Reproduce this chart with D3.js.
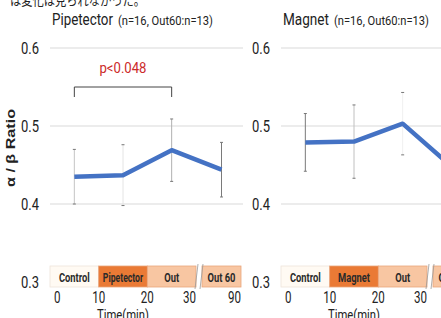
<!DOCTYPE html>
<html>
<head>
<meta charset="utf-8">
<script src="https://cdn.jsdelivr.net/npm/d3@7"></script>
<style>
  body { margin: 0; background: #fff; overflow: hidden; }
  text { font-family: "Roboto", "Liberation Sans", sans-serif; }
</style>
</head>
<body>
<div id="chart"></div>
<script>
/* DATA */
const panelTitles = ['Pipetector', 'Magnet'];
const panelSubtitle = '(n=16, Out60:n=13)';
const stagesPip = ['Control', 'Pipetector', 'Out', 'Out 60'];
const stagesMag = ['Control', 'Magnet', 'Out', 'Out 60'];
const timeTicks = [0, 10, 20, 30];
const lateTick = '90';
const yTicks = [0.3, 0.4, 0.5, 0.6];
const pipMean = [0.435, 0.437, 0.469, 0.444];
const pipErr = [0.035, 0.039, 0.040, 0.035];
const magMean = [0.479, 0.480, 0.503, 0.447];
const magErr = [0.037, 0.047, 0.040, 0.040];
const pText = 'p<0.048';

/* CONSTANTS */
const W = 441, H = 318;
const stageFill = ['#fffaf3', '#ea7a35', '#f8c6a2', '#f8c6a2'];
const pipErrColor = ['#c4c4c4', '#e4e4e4', '#b0b0b0', '#7a7a7a'];
const magErrColor = ['#7a7a7a', '#c0c0c0', '#f0f0f0', '#c0c0c0'];

const svg = d3.select('#chart')
  .append('svg')
  .attr('width', W)
  .attr('height', H);

// text helper, the slide font is condensed so texts get squeezed
function label(g, x, y, s, o = {}) {
  const t = g.append('text')
    .attr('x', x).attr('y', y)
    .attr('text-anchor', o.anchor || 'start')
    .style('font-size', (o.size || 14) + 'px')
    .attr('fill', o.fill || '#222')
    .text(s);
  if (o.bold) t.style('font-weight', 'bold');
  if (o.family) t.style('font-family', o.family);
  let len = o.len;
  if (!len && o.squeeze) len = t.node().getComputedTextLength() * o.squeeze;
  if (len) t.attr('textLength', len).attr('lengthAdjust', 'spacingAndGlyphs');
  return t;
}

// cut-off sentence from the slide above
label(svg, 10, 5, 'は変化は見られなかった。', { size: 14, len: 135, family: '"Noto Sans CJK JP", sans-serif' });

const y = d3.scaleLinear().domain([0.3, 0.6]).range([282, 48]);

// y axis title
label(svg, 0, 0, 'α / β Ratio', { size: 13, bold: true, anchor: 'middle', len: 78, family: '"Liberation Sans", sans-serif' })
  .attr('transform', 'translate(15,148) rotate(-90)');

function drawPanel(ox, title, titleLen, stages, mean, err, errColor, showLate) {
  const g = svg.append('g').attr('transform', `translate(${ox},0)`);
  const x = d3.scaleLinear().domain([0, 30]).range([50, 196]);
  const lateX0 = x(30) + 6, lateW = 39;
  const px = i => i < 3 ? x(5 + 10 * i) : lateX0 + lateW / 2;

  // title
  label(g, 52, 25, title, { size: 16, len: titleLen });
  label(g, 52 + titleLen + 5, 25, panelSubtitle, { size: 13, len: 95 });

  // gridlines + tick labels
  g.selectAll('.grid')
    .data(yTicks.filter(d => d > 0.3))
    .enter().append('line')
    .attr('x1', 50).attr('x2', lateX0 + lateW + 2)
    .attr('y1', d => y(d)).attr('y2', d => y(d))
    .attr('stroke', '#d9d9d9').attr('stroke-width', 1);

  yTicks.forEach(d => {
    label(g, 39, y(d) + 6, d.toFixed(1), { size: 16, anchor: 'end', len: 18 });
  });

  // timeline bar
  const barTop = 266, barH = 21;
  const segs = stages.map((s, i) => i < 3
    ? { name: s, x0: x(10 * i), x1: x(10 * i + 10), fill: stageFill[i] }
    : { name: s, x0: lateX0, x1: lateX0 + lateW, fill: stageFill[i] });

  g.selectAll('.seg')
    .data(segs)
    .enter().append('rect')
    .attr('x', d => d.x0).attr('y', barTop)
    .attr('width', d => d.x1 - d.x0).attr('height', barH)
    .attr('fill', d => d.fill)
    .attr('stroke', (d, i) => i === 0 ? '#eee4da' : '#e9a57c')
    .attr('stroke-width', 0.8);

  segs.forEach(d => {
    label(g, (d.x0 + d.x1) / 2, barTop + 16, d.name, {
      size: d.name.length > 7 ? 12 : 13, bold: true, anchor: 'middle', fill: '#2a2a2a', squeeze: 0.72
    });
  });

  // break marks
  const bx = x(30);
  g.append('path')
    .attr('d', `M${bx - 1},${barTop + barH + 2} L${bx + 2},${barTop - 2} M${bx + 4},${barTop + barH + 2} L${bx + 7},${barTop - 2}`)
    .attr('stroke', '#999').attr('stroke-width', 0.8).attr('fill', 'none');

  // time ticks
  timeTicks.forEach((d, i) => {
    const s = String(d);
    label(g, i === 0 ? x(d) + 4 : x(d), 303, s, {
      size: 16, anchor: i === 0 ? 'start' : i === 3 ? 'end' : 'middle', len: s.length * 6.5
    });
  });
  if (showLate) {
    label(g, lateX0 + lateW, 303, lateTick, { size: 16, anchor: 'end', len: 13 });
  }
  label(g, x(15), 320, 'Time(min)', { size: 15, anchor: 'middle', len: 52 });

  // error bars
  const eb = g.selectAll('.eb')
    .data(mean.map((m, i) => ({ m, e: err[i], i })))
    .enter().append('g')
    .attr('stroke', d => errColor[d.i]).attr('stroke-width', 1);

  eb.append('line')
    .attr('x1', d => px(d.i)).attr('x2', d => px(d.i))
    .attr('y1', d => y(d.m + d.e)).attr('y2', d => y(d.m - d.e));
  eb.selectAll('.cap')
    .data(d => [d.m + d.e, d.m - d.e].map(v => ({ v, i: d.i })))
    .enter().append('line')
    .attr('x1', d => px(d.i) - 1.5).attr('x2', d => px(d.i) + 1.5)
    .attr('y1', d => y(d.v)).attr('y2', d => y(d.v))
    .attr('stroke', '#777');

  // mean line
  g.append('path')
    .datum(mean)
    .attr('d', d3.line().x((d, i) => px(i)).y(d => y(d)))
    .attr('fill', 'none')
    .attr('stroke', '#4472c4')
    .attr('stroke-width', 4.5)
    .attr('stroke-linejoin', 'round');

  return { px };
}

const left = drawPanel(0, panelTitles[0], 61, stagesPip, pipMean, pipErr, pipErrColor, true);
drawPanel(231, panelTitles[1], 46, stagesMag, magMean, magErr, magErrColor, false);

// significance bracket
const bx1 = left.px(0), bx2 = left.px(2), by = 87;
svg.append('path')
  .attr('d', `M${bx1},${by + 10} V${by} H${bx2} V${by + 10}`)
  .attr('fill', 'none')
  .attr('stroke', '#444')
  .attr('stroke-width', 1);
label(svg, (bx1 + bx2) / 2, 73, pText, { size: 14, anchor: 'middle', fill: '#cc2a2a', len: 47 });
</script>
</body>
</html>
